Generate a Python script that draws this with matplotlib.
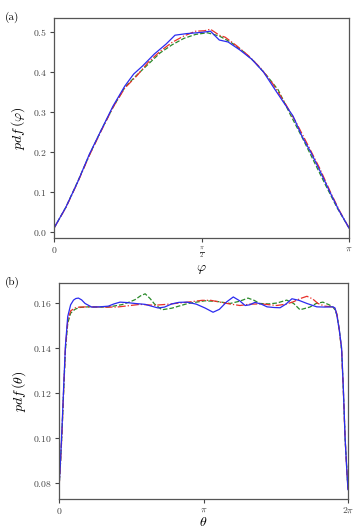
import matplotlib
matplotlib.use("Agg")
import matplotlib.pyplot as plt
import numpy as np

plt.rcParams["font.family"] = "serif"
plt.rcParams["font.serif"] = ["cmr10", "DejaVu Serif"]
plt.rcParams["mathtext.fontset"] = "cm"
plt.rcParams["axes.formatter.use_mathtext"] = True

# panel (a): pdf of phi, x given as fraction of pi
phi_blue = [0.00, 0.04, 0.08, 0.12, 0.16, 0.20, 0.24, 0.27, 0.30, 0.34, 0.38, 0.41,
            0.45, 0.50, 0.53, 0.56, 0.59, 0.63, 0.67, 0.71, 0.75, 0.78, 0.81, 0.84,
            0.87, 0.90, 0.935, 0.965, 1.00]
pdf_blue = [0.010, 0.062, 0.125, 0.195, 0.255, 0.315, 0.365, 0.395, 0.415, 0.445, 0.470, 0.492,
            0.496, 0.499, 0.502, 0.480, 0.475, 0.455, 0.432, 0.400, 0.355, 0.322, 0.290, 0.240,
            0.200, 0.155, 0.100, 0.055, 0.010]

phi_green = [0.00, 0.04, 0.08, 0.12, 0.16, 0.20, 0.24, 0.28, 0.32, 0.36, 0.40, 0.44,
             0.48, 0.52, 0.56, 0.60, 0.64, 0.68, 0.72, 0.76, 0.80, 0.84, 0.88, 0.92,
             0.96, 1.00]
pdf_green = [0.010, 0.062, 0.126, 0.193, 0.255, 0.312, 0.362, 0.392, 0.420, 0.448, 0.468, 0.484,
             0.494, 0.498, 0.490, 0.474, 0.452, 0.425, 0.392, 0.355, 0.295, 0.238, 0.178, 0.118,
             0.060, 0.010]

phi_red = [0.00, 0.04, 0.08, 0.12, 0.16, 0.20, 0.24, 0.28, 0.32, 0.36, 0.40, 0.44,
           0.48, 0.51, 0.53, 0.56, 0.58, 0.62, 0.66, 0.70, 0.74, 0.78, 0.82, 0.86,
           0.90, 0.94, 0.97, 1.00]
pdf_red = [0.010, 0.061, 0.124, 0.192, 0.253, 0.312, 0.360, 0.390, 0.425, 0.452, 0.474, 0.490,
           0.502, 0.503, 0.507, 0.492, 0.487, 0.465, 0.440, 0.410, 0.372, 0.326, 0.275, 0.218,
           0.160, 0.095, 0.050, 0.010]

# panel (b): pdf of theta, x given as fraction of 2*pi
th_blue = [0.000, 0.005, 0.010, 0.016, 0.022, 0.030, 0.040, 0.050, 0.058, 0.067, 0.078,
           0.090, 0.113, 0.140, 0.170, 0.190, 0.211, 0.235, 0.263, 0.298, 0.320, 0.343,
           0.365, 0.390, 0.415, 0.443, 0.475, 0.505, 0.533, 0.555, 0.580, 0.603, 0.625,
           0.644, 0.660, 0.678, 0.700, 0.720, 0.745, 0.765, 0.785, 0.806, 0.830, 0.858,
           0.892, 0.920, 0.948, 0.955, 0.961, 0.970, 0.978, 0.984, 0.990, 0.995, 1.000]
pdf_th_blue = [0.078, 0.090, 0.104, 0.123, 0.141, 0.154, 0.1592, 0.1613, 0.1620, 0.1622, 0.1614,
               0.1598, 0.1582, 0.1583, 0.1586, 0.1596, 0.1604, 0.1602, 0.1598, 0.1594, 0.1586, 0.1578,
               0.1582, 0.1596, 0.1603, 0.1604, 0.1595, 0.1578, 0.1559, 0.1572, 0.1605, 0.1627, 0.1610,
               0.1589, 0.1592, 0.1603, 0.1595, 0.1583, 0.1580, 0.1579, 0.1595, 0.1619, 0.1612, 0.1598,
               0.1583, 0.1582, 0.1583, 0.1578, 0.1550, 0.148, 0.140, 0.122, 0.100, 0.088, 0.077]

th_green = [0.000, 0.005, 0.010, 0.016, 0.022, 0.030, 0.040, 0.055, 0.070, 0.100, 0.140,
            0.170, 0.218, 0.245, 0.263, 0.282, 0.298, 0.315, 0.330, 0.356, 0.390, 0.446,
            0.505, 0.547, 0.592, 0.625, 0.654, 0.675, 0.695, 0.725, 0.754, 0.788, 0.812,
            0.834, 0.868, 0.890, 0.913, 0.935, 0.948, 0.955, 0.962, 0.970, 0.978, 0.984,
            0.990, 0.995, 1.000]
pdf_th_green = [0.078, 0.089, 0.102, 0.121, 0.139, 0.151, 0.1555, 0.1572, 0.1580, 0.1583, 0.1582,
                0.1582, 0.1593, 0.1605, 0.1615, 0.1632, 0.1641, 0.1620, 0.1596, 0.1570, 0.1577, 0.1598,
                0.1610, 0.1607, 0.1598, 0.1608, 0.1622, 0.1612, 0.1598, 0.1596, 0.1600, 0.1613, 0.1598,
                0.1570, 0.1582, 0.1598, 0.1604, 0.1592, 0.1582, 0.1570, 0.1545, 0.148, 0.139, 0.121,
                0.100, 0.088, 0.077]

th_red = [0.000, 0.005, 0.010, 0.016, 0.022, 0.030, 0.040, 0.055, 0.070, 0.100, 0.150,
          0.200, 0.240, 0.280, 0.330, 0.380, 0.446, 0.495, 0.525, 0.557, 0.590, 0.626,
          0.660, 0.700, 0.754, 0.785, 0.810, 0.835, 0.858, 0.878, 0.896, 0.920, 0.945,
          0.955, 0.962, 0.970, 0.978, 0.984, 0.990, 0.995, 1.000]
pdf_th_red = [0.078, 0.089, 0.102, 0.122, 0.140, 0.152, 0.1565, 0.1578, 0.1582, 0.1583, 0.1582,
              0.1582, 0.1588, 0.1594, 0.1590, 0.1595, 0.1604, 0.1612, 0.1612, 0.1604, 0.1596, 0.1589,
              0.1595, 0.1596, 0.1589, 0.1595, 0.1605, 0.1620, 0.1630, 0.1618, 0.1598, 0.1586, 0.1583,
              0.1575, 0.1550, 0.148, 0.139, 0.121, 0.100, 0.088, 0.077]

fig = plt.figure(figsize=(3.58, 5.29), dpi=100)
ax1 = fig.add_axes([0.151, 0.550, 0.824, 0.416])
ax2 = fig.add_axes([0.165, 0.057, 0.807, 0.408])

lw = 0.9
ax1.plot(np.array(phi_green) * np.pi, pdf_green, color="#2a8a2a", ls="--", lw=lw)
ax1.plot(np.array(phi_red) * np.pi, pdf_red, color="#e8302a", ls="-.", lw=lw)
ax1.plot(np.array(phi_blue) * np.pi, pdf_blue, color="#2b2bf0", ls="-", lw=lw)

ax2.plot(np.array(th_green) * 2 * np.pi, pdf_th_green, color="#2a8a2a", ls="--", lw=lw)
ax2.plot(np.array(th_red) * 2 * np.pi, pdf_th_red, color="#e8302a", ls="-.", lw=lw)
ax2.plot(np.array(th_blue) * 2 * np.pi, pdf_th_blue, color="#2b2bf0", ls="-", lw=lw)

ax1.set_xlim(0, np.pi)
ax1.set_ylim(-0.015, 0.535)
ax1.set_xticks([0, np.pi / 2, np.pi])
ax1.set_xticklabels(["$0$", r"$\frac{\pi}{2}$", r"$\pi$"])
ax1.set_yticks([0.0, 0.1, 0.2, 0.3, 0.4, 0.5])
ax1.set_xlabel(r"$\varphi$", fontsize=10, labelpad=2)
ax1.set_ylabel(r"$pdf\,(\varphi)$", fontsize=10, labelpad=4)

ax2.set_xlim(0, 2 * np.pi)
ax2.set_ylim(0.0729, 0.1689)
ax2.set_xticks([0, np.pi, 2 * np.pi])
ax2.set_xticklabels(["$0$", r"$\pi$", r"$2\pi$"])
ax2.set_yticks([0.08, 0.10, 0.12, 0.14, 0.16])
ax2.set_xlabel(r"$\theta$", fontsize=10, labelpad=0)
ax2.set_ylabel(r"$pdf\,(\theta)$", fontsize=10, labelpad=4)

for ax in (ax1, ax2):
    for s in ax.spines.values():
        s.set_color("#555555")
        s.set_linewidth(0.9)
    ax.tick_params(labelsize=7, colors="#444444", length=3, width=0.8, pad=2)

fig.text(0.014, 0.962, "(a)", fontsize=8)
fig.text(0.014, 0.462, "(b)", fontsize=8)

fig.savefig("out.png", dpi=100)
